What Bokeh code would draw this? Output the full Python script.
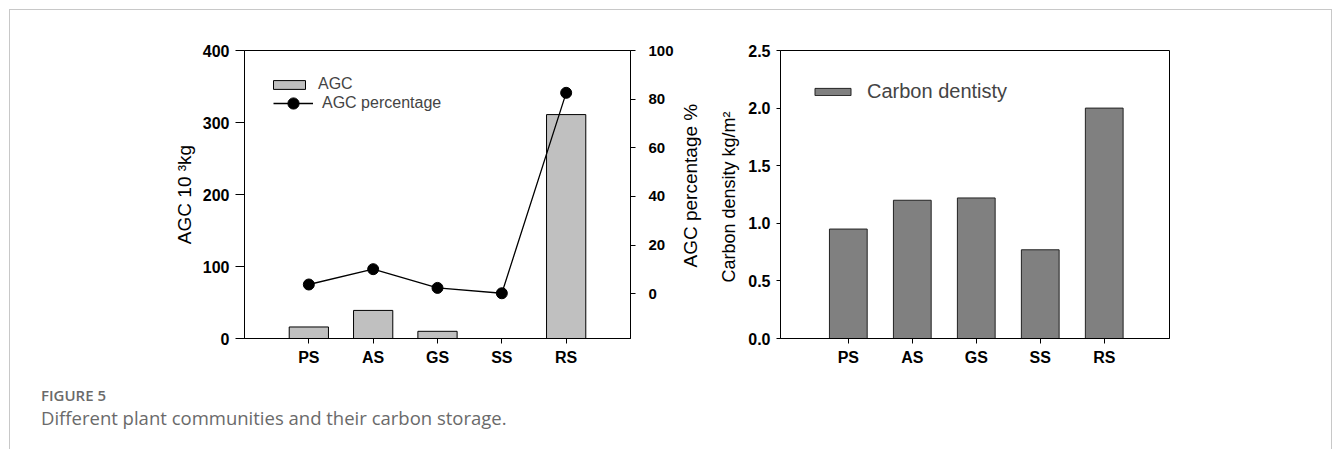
import math
from bokeh.plotting import figure
from bokeh.models import (Range1d, LinearAxis, FixedTicker, Legend, LegendItem, Div,
                          NumeralTickFormatter, Label)
from bokeh.layouts import row, column
from bokeh.embed import file_html
from bokeh.resources import INLINE

# ---- data ----
communities = ["PS", "AS", "GS", "SS", "RS"]
agc = [16, 39, 10, 0, 311]                 # AGC, 10^3 kg
agc_pct = [3.8, 10.1, 2.4, 0.2, 82.6]      # AGC percentage, %
carbon_density = [0.95, 1.20, 1.22, 0.77, 2.00]  # kg/m^2
agc_ticks = [0, 100, 200, 300, 400]
pct_ticks = [0, 20, 40, 60, 80, 100]
density_ticks = [0.0, 0.5, 1.0, 1.5, 2.0, 2.5]

xs = list(range(1, len(communities) + 1))
labels = {i: c for i, c in zip(xs, communities)}

FONT = "Liberation Sans"


def style_axis(ax, tick_out=5, size="16px", bold=True):
    ax.major_tick_out = tick_out
    ax.major_tick_in = 0
    ax.minor_tick_line_color = None
    ax.axis_line_color = "black"
    ax.major_tick_line_color = "black"
    ax.major_label_text_font = FONT
    ax.major_label_text_font_size = size
    ax.major_label_text_font_style = "bold" if bold else "normal"
    ax.major_label_text_color = "black"
    ax.axis_label_text_font = FONT
    ax.axis_label_text_font_style = "normal"
    ax.axis_label_text_color = "black"


# ---- left figure ----
p1 = figure(frame_width=386, frame_height=288,
            x_range=Range1d(0, 6.0), y_range=Range1d(0, 400),
            output_backend="svg", toolbar_location=None,
            min_border_left=234, min_border_right=44,
            min_border_top=40, min_border_bottom=52,
            outline_line_color="black", background_fill_color="white",
            border_fill_color="white")
p1.grid.visible = False
p1.extra_y_ranges = {"pct": Range1d(-18.4, 100)}

p1.yaxis.ticker = FixedTicker(ticks=agc_ticks)
p1.yaxis.axis_label = "AGC 10 \u00b3kg"
style_axis(p1.yaxis[0], tick_out=9, size="16px")
p1.yaxis.axis_label_text_font_size = "19px"
p1.yaxis.major_label_standoff = 6
p1.xaxis.ticker = FixedTicker(ticks=xs)
p1.xaxis.major_label_overrides = labels
style_axis(p1.xaxis[0], tick_out=5, size="16px")

ax_r = LinearAxis(y_range_name="pct", ticker=FixedTicker(ticks=pct_ticks))
style_axis(ax_r, tick_out=5, size="15px")
ax_r.major_label_standoff = 13
p1.add_layout(ax_r, "right")

bars1 = p1.vbar(x=xs, top=agc, bottom=0, width=0.61,
                fill_color="#c0c0c0", line_color="black", line_width=1)
ln = p1.line(x=xs, y=agc_pct, y_range_name="pct", line_color="black", line_width=1.3)
pts = p1.scatter(x=xs, y=agc_pct, y_range_name="pct", size=11,
                 fill_color="black", line_color="black")

leg1a = Legend(items=[LegendItem(label="AGC", renderers=[bars1])],
               location="top_left", margin=25, padding=4,
               glyph_width=40, glyph_height=11, label_standoff=9,
               label_text_font=FONT, label_text_font_size="16px",
               border_line_color=None, background_fill_alpha=0)
leg1b = Legend(items=[LegendItem(label="AGC percentage", renderers=[ln, pts])],
               location=(29, 221), margin=0, padding=0,
               glyph_width=40, glyph_height=28, label_standoff=9,
               label_text_font=FONT, label_text_font_size="16px",
               border_line_color=None, background_fill_alpha=0)
p1.add_layout(leg1a)
p1.add_layout(leg1b)

# ---- narrow strip holding the title of the right-hand axis ----
pm = figure(frame_width=28, frame_height=288,
            x_range=Range1d(0, 1), y_range=Range1d(0, 1),
            output_backend="svg", toolbar_location=None,
            min_border_left=0, min_border_right=0,
            min_border_top=40, min_border_bottom=52,
            x_axis_location=None, y_axis_location=None,
            outline_line_color=None, background_fill_color="white",
            border_fill_color="white")
pm.grid.visible = False
pm.add_layout(Label(x=0.5, y=0.54, text="AGC percentage  %", angle=math.pi / 2,
                    text_align="center", text_baseline="middle",
                    text_font=FONT, text_font_size="19px", text_color="black"))

# ---- right figure ----
p2 = figure(frame_width=389, frame_height=288,
            x_range=Range1d(-0.06, 6.02), y_range=Range1d(0, 2.5),
            output_backend="svg", toolbar_location=None,
            min_border_left=76, min_border_right=162,
            min_border_top=39, min_border_bottom=53,
            outline_line_color="black", background_fill_color="white",
            border_fill_color="white")
p2.grid.visible = False
p2.yaxis.ticker = FixedTicker(ticks=density_ticks)
p2.yaxis.formatter = NumeralTickFormatter(format="0.0")
p2.yaxis.axis_label = "Carbon density  kg/m\u00b2"
style_axis(p2.yaxis[0], tick_out=4, size="16px")
p2.yaxis.axis_label_text_font_size = "18px"
p2.yaxis.axis_label_standoff = 6
p2.yaxis.major_label_standoff = 6
p2.xaxis.ticker = FixedTicker(ticks=xs)
p2.xaxis.major_label_overrides = labels
style_axis(p2.xaxis[0], tick_out=5, size="16px")

bars2 = p2.vbar(x=xs, top=carbon_density, bottom=0, width=0.59,
                fill_color="#808080", line_color="#222222", line_width=1)
leg2 = Legend(items=[LegendItem(label="Carbon dentisty", renderers=[bars2])],
              location="top_left", margin=30, padding=0,
              glyph_width=45, glyph_height=9, label_standoff=12,
              label_text_font=FONT, label_text_font_size="20px",
              border_line_color=None, background_fill_alpha=0)
p2.add_layout(leg2)

caption = Div(
    text=('<div style="font-family:\'Open Sans\';color:#6a6a6a;">'
          '<div style="font-size:15px;font-weight:600;line-height:20px;margin-top:-5px;">FIGURE 5</div>'
          '<div style="font-size:18.5px;line-height:26px;">Different plant communities and their carbon storage.</div>'
          '</div>'),
    width=1000, height=59, margin=(0, 0, 0, 31))

layout = column(row(p1, pm, p2), caption, margin=(9, 0, 0, 9),
                styles={"border-top": "1px solid #c8c8c8",
                        "border-left": "1px solid #c8c8c8",
                        "border-right": "1px solid #c8c8c8"})

open("out.html", "w").write(file_html(layout, INLINE))
